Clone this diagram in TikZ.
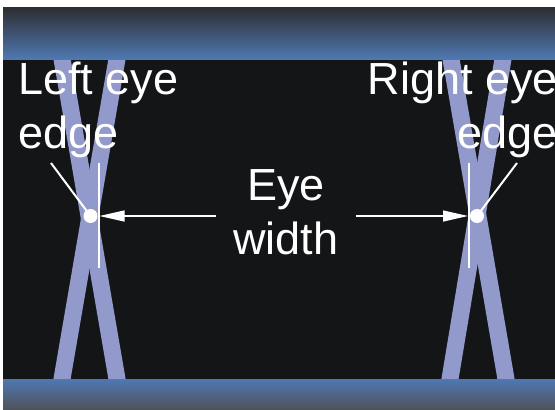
\documentclass[tikz,border=0pt]{standalone}
\usepackage{fontspec}
\setmainfont{Liberation Sans}
\usetikzlibrary{arrows.meta,positioning}

\definecolor{panelblack}{RGB}{20,21,23}
\definecolor{eyeband}{RGB}{146,154,204}
\definecolor{railblue}{RGB}{79,120,178}
\definecolor{railgray}{RGB}{96,108,134}
\definecolor{raildark}{RGB}{45,45,48}
\definecolor{railfoot}{RGB}{80,81,88}

\begin{document}
\begin{tikzpicture}[x=1pt, y=-1pt]
    % Define styles
    \tikzstyle{band} = [eyeband, line width=17pt, shorten <=-12pt, shorten >=-12pt]
    \tikzstyle{marker} = [white, line width=2pt]
    \tikzstyle{edgedot} = [circle, fill=white, minimum size=14pt, inner sep=0pt, outer sep=2pt]
    \tikzstyle{caption} = [text=white, font=\fontsize{45}{54}\selectfont, inner sep=0pt]
    \tikzstyle{arrow} = [white, line width=1.2pt, -{Triangle[length=25pt, width=11pt]}]

    % Background
    \useasboundingbox (0,0) rectangle (555,410);
    \fill[white] (0,0) rectangle (555,410);
    \fill[panelblack] (3,7) rectangle (555,410);

    % Eye crossings
    \draw[band] (62,59) -- (117,379);
    \draw[band] (117,59) -- (62,379);
    \draw[band] (451,59) -- (506,379);
    \draw[band] (503,59) -- (450,379);

    % Rails
    \shade[top color=raildark, middle color=railgray, bottom color=railblue] (3,7) rectangle (555,59);
    \shade[top color=railblue, middle color=railgray, bottom color=railfoot] (3,379) rectangle (555,410);

    % Edge markers
    \coordinate (lefttop) at (99,163);
    \coordinate (leftbottom) at (99,268);
    \coordinate (righttop) at (469,163);
    \coordinate (rightbottom) at (469,268);
    \draw[marker] (lefttop) -- (leftbottom);
    \draw[marker] (righttop) -- (rightbottom);

    % Nodes
    \node[caption, align=left, anchor=base west] (lefttext) at (18,148) {Left eye\\edge};
    \node[caption, align=right, anchor=base east] (righttext) at (558,148) {Right eye\\edge};
    \node[caption, align=center, anchor=base, inner xsep=17pt] (eyewidth) at (286,254) {Eye\\width};
    \coordinate (leftend) at (51,163);
    \coordinate (rightend) at (517,163);
    \draw[marker] (leftend) -- (90.5,216);
    \draw[marker] (rightend) -- (477,216);
    \node[edgedot] (leftdot) at (90.5,216) {};
    \node[edgedot] (rightdot) at (477,216) {};

    % Arrows
    \draw[arrow] (eyewidth.west |- leftdot) -- (leftdot);
    \draw[arrow] (eyewidth.east |- rightdot) -- (rightdot);
\end{tikzpicture}
\end{document}
